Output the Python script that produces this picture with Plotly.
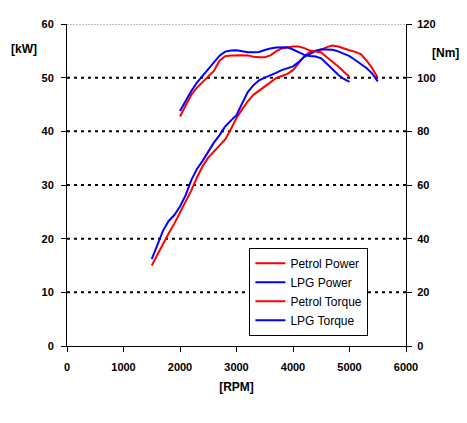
import plotly.graph_objects as go

# engine speed [RPM]
rpm_power = [1500, 1600, 1700, 1800, 1900, 2000, 2100, 2200, 2300, 2400,
             2500, 2600, 2700, 2800, 2900, 3000, 3100, 3200, 3300, 3400,
             3500, 3600, 3700, 3800, 3900, 4000, 4100, 4200, 4300, 4400,
             4500, 4600, 4700, 4800, 4900, 5000, 5100, 5200, 5300, 5400, 5500]
rpm_torque = [2000, 2100, 2200, 2300, 2400, 2500, 2600, 2700, 2800, 2900,
              3000, 3100, 3200, 3300, 3400, 3500, 3600, 3700, 3800, 3900,
              4000, 4100, 4200, 4300, 4400, 4500, 4600, 4700, 4800, 4900, 5000]

# power [kW]
petrol_power = [15.0, 17.1, 19.2, 21.0, 22.8, 24.8, 26.9, 29.0, 31.4, 33.5,
                35.1, 36.2, 37.3, 38.5, 40.4, 42.5, 44.1, 45.6, 46.8, 47.6,
                48.3, 49.1, 49.9, 50.3, 50.7, 51.4, 52.7, 54.0, 54.8, 55.0,
                55.2, 55.7, 56.0, 55.8, 55.4, 55.1, 54.8, 54.4, 53.2, 51.8, 50.0]
lpg_power = [16.2, 18.8, 21.5, 23.3, 24.4, 26.0, 28.1, 30.9, 33.0, 34.5,
             36.2, 37.9, 39.3, 40.9, 42.0, 43.0, 45.2, 47.3, 48.6, 49.5,
             50.0, 50.4, 50.9, 51.4, 51.7, 52.1, 52.9, 53.9, 54.4, 55.0,
             55.3, 55.3, 55.2, 54.9, 54.4, 54.0, 53.3, 52.5, 51.8, 50.8, 49.3]

# torque [Nm]
petrol_torque = [85.5, 89.8, 93.6, 96.3, 98.3, 100.3, 102.5, 106.3, 108.0, 108.3,
                 108.4, 108.4, 108.3, 107.8, 107.6, 107.6, 108.3, 109.8, 110.9, 111.3,
                 111.6, 111.6, 111.0, 110.1, 109.7, 109.4, 107.6, 106.0, 104.2, 102.2, 100.3]
lpg_torque = [87.6, 91.6, 95.0, 98.2, 100.7, 102.9, 105.4, 108.2, 109.7, 110.1,
              110.2, 109.8, 109.5, 109.5, 109.6, 110.3, 110.9, 111.2, 111.3, 111.3,
              110.5, 109.5, 108.5, 108.1, 107.9, 107.2, 105.1, 103.0, 101.1, 99.5, 98.4]

kw_gridlines = [10, 20, 30, 40, 50]

RED = "#ff0000"
BLUE = "#0000ff"
FONT = "Liberation Sans, Arial, sans-serif"
bold = dict(family=FONT, size=11, color="black", weight="bold")

fig = go.Figure()
fig.add_trace(go.Scatter(x=rpm_power, y=petrol_power, name="Petrol Power",
                         mode="lines", line=dict(color=RED, width=2)))
fig.add_trace(go.Scatter(x=rpm_power, y=lpg_power, name="LPG Power",
                         mode="lines", line=dict(color=BLUE, width=2)))
fig.add_trace(go.Scatter(x=rpm_torque, y=petrol_torque, name="Petrol Torque",
                         mode="lines", line=dict(color=RED, width=2), yaxis="y2"))
fig.add_trace(go.Scatter(x=rpm_torque, y=lpg_torque, name="LPG Torque",
                         mode="lines", line=dict(color=BLUE, width=2), yaxis="y2"))

shapes = [dict(type="line", xref="paper", x0=0, x1=1, yref="y", y0=g, y1=g,
               line=dict(color="black", width=2, dash="3px,4px"), layer="below")
          for g in kw_gridlines]
shapes.append(dict(type="line", xref="paper", x0=0, x1=1, yref="y", y0=60, y1=60,
                   line=dict(color="#808080", width=1, dash="2px,1px"), layer="below"))

axis_common = dict(showgrid=False, zeroline=False, showline=True, linecolor="black",
                   linewidth=1, ticks="outside", ticklen=5, tickcolor="black",
                   tickfont=bold)

# page body has an 8px margin, so the figure is shrunk and shifted to compensate
fig.update_layout(
    width=459, height=415,
    margin=dict(l=58.5, r=60.5, t=10, b=77),
    paper_bgcolor="white", plot_bgcolor="white",
    font=dict(family=FONT, color="black"),
    showlegend=True,
    legend=dict(x=0.538, y=0.305, xanchor="left", yanchor="top",
                bgcolor="white", bordercolor="black", borderwidth=1,
                font=dict(family=FONT, size=12, color="black"),
                tracegroupgap=0, itemwidth=30),
    xaxis=dict(range=[0, 6000], dtick=1000, ticklabelstandoff=6,
               title=dict(text="[RPM]", font=dict(family=FONT, size=12, weight="bold"),
                          standoff=10),
               **axis_common),
    yaxis=dict(range=[0, 60], dtick=10, ticklabelstandoff=5, **axis_common),
    yaxis2=dict(range=[0, 120], dtick=20, overlaying="y", side="right",
                ticklabelstandoff=3, **axis_common),
    shapes=shapes,
    annotations=[
        dict(text="[kW]", xref="paper", yref="paper", x=-0.128, y=0.921,
             xanchor="center", yanchor="middle",
             showarrow=False, font=dict(family=FONT, size=12, weight="bold")),
        dict(text="[Nm]", xref="paper", yref="paper", x=1.116, y=0.909,
             xanchor="center", yanchor="middle",
             showarrow=False, font=dict(family=FONT, size=12, weight="bold")),
    ],
)

fig.write_html("out.html")
